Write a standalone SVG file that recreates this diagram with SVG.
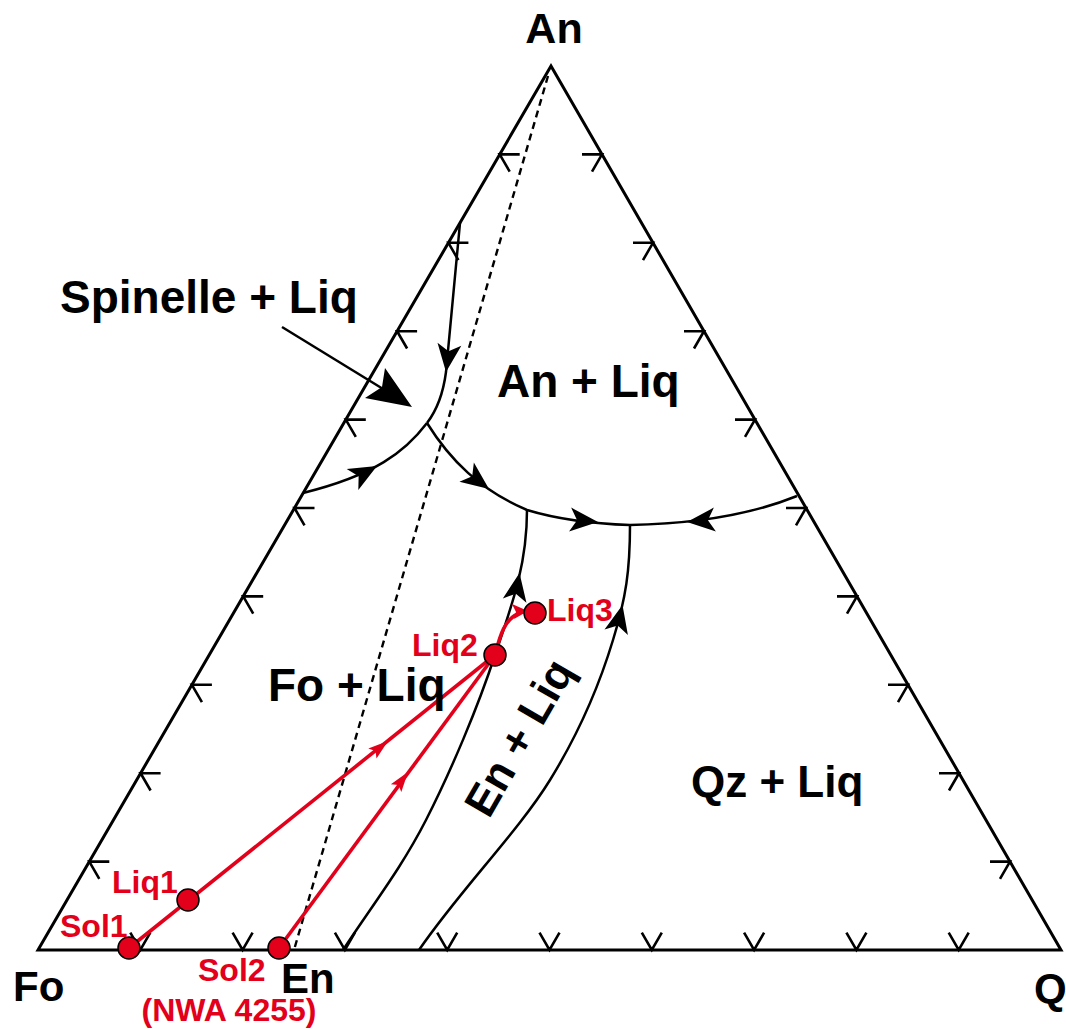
<svg xmlns="http://www.w3.org/2000/svg" xmlns:xlink="http://www.w3.org/1999/xlink" width="1066" height="1030" viewBox="0 0 1066 1030">
<style>
.edge{fill:none;stroke:#000;stroke-width:3;stroke-linejoin:miter}
.tick{fill:none;stroke:#000;stroke-width:2.6}
.bnd{fill:none;stroke:#000;stroke-width:2.5}
.dash{fill:none;stroke:#000;stroke-width:2.4;stroke-dasharray:7 5}
.red{fill:none;stroke:#e2001a;stroke-width:3.6}
.pt{fill:#e2001a;stroke:#000;stroke-width:1.5}
.lbl{font-family:"Liberation Sans",Arial,Helvetica,sans-serif;font-weight:bold;fill:#000}
.rl{font-family:"Liberation Sans",Arial,Helvetica,sans-serif;font-weight:bold;fill:#e2001a;font-size:32px}
</style>
<defs>
<path id="ah" d="M0,0 L-28,-12 L-21,0 L-28,12 Z" fill="#000"/>
</defs>
<rect width="1066" height="1030" fill="#fff"/>
<g id="triangle">
<polygon class="edge" points="38,950 551,66 1061,950"/>
<path class="tick" d="M109.3,861.6 L89.3,861.6 L99.3,878.9 M160.6,773.2 L140.6,773.2 L150.6,790.5 M211.9,684.8 L191.9,684.8 L201.9,702.1 M263.2,596.4 L243.2,596.4 L253.2,613.7 M314.5,508 L294.5,508 L304.5,525.3 M365.8,419.6 L345.8,419.6 L355.8,436.9 M417.1,331.2 L397.1,331.2 L407.1,348.5 M468.4,242.8 L448.4,242.8 L458.4,260.1 M519.7,154.4 L499.7,154.4 L509.7,171.7"/>
<path class="tick" d="M582,154.4 L602,154.4 L592,171.7 M633,242.8 L653,242.8 L643,260.1 M684,331.2 L704,331.2 L694,348.5 M735,419.6 L755,419.6 L745,436.9 M786,508 L806,508 L796,525.3 M837,596.4 L857,596.4 L847,613.7 M888,684.8 L908,684.8 L898,702.1 M939,773.2 L959,773.2 L949,790.5 M990,861.6 L1010,861.6 L1000,878.9"/>
<path class="tick" d="M130.3,932.7 L140.3,950 L150.3,932.7 M232.6,932.7 L242.6,950 L252.6,932.7 M334.9,932.7 L344.9,950 L354.9,932.7 M437.2,932.7 L447.2,950 L457.2,932.7 M539.5,932.7 L549.5,950 L559.5,932.7 M641.8,932.7 L651.8,950 L661.8,932.7 M744.1,932.7 L754.1,950 L764.1,932.7 M846.4,932.7 L856.4,950 L866.4,932.7 M948.7,932.7 L958.7,950 L968.7,932.7"/>
</g>
<g id="connectors">
<path class="bnd" d="M460,223 L446,372 C443,395 437,410 427,423"/>
<path class="bnd" d="M427,423 C405,452 375,475 303,493"/>
<path class="bnd" d="M427,423 C450,460 480,490 527,510 C560,520 600,524 630,525 C690,524 750,515 797,496"/>
<path class="bnd" d="M527,510 C527,565 512,605 495,655 C478,707 451,771 426,820 C401,869 371,907 343,950"/>
<path class="bnd" d="M630,525 C630,570 626,598 613,640 C600,683 582,728 550,780 C518,832 460,890 419,950"/>
<use xlink:href="#ah" href="#ah" transform="translate(446,372) rotate(97)"/>
<use xlink:href="#ah" href="#ah" transform="translate(377,466) rotate(-29)"/>
<use xlink:href="#ah" href="#ah" transform="translate(489,489) rotate(37)"/>
<use xlink:href="#ah" href="#ah" transform="translate(598,522) rotate(5)"/>
<use xlink:href="#ah" href="#ah" transform="translate(687,522) rotate(175)"/>
<use xlink:href="#ah" href="#ah" transform="translate(519.5,573) rotate(-80)"/>
<use xlink:href="#ah" href="#ah" transform="translate(622.5,605) rotate(-77)"/>
<path class="bnd" d="M282,327 L388,392"/>
<polygon points="412,407 385,368 382,387 365,398" fill="#000"/>
<path class="dash" d="M548,76 L294,950"/>
<path class="red" d="M129,948 L495,655"/>
<path class="red" d="M279,948 L495,655"/>
<path class="red" d="M495,655 C500,635 505,618 520,613"/>
<polygon points="388,741 368.3,748.4 375.5,751 376.5,758.6" fill="#e2001a"/>
<polygon points="408,772 390.9,784.2 398.5,784.9 401.3,792" fill="#e2001a"/>
<polygon points="528,611 512,604 516,612 514,619" fill="#e2001a"/>
</g>
<g id="Sol1"><circle class="pt" cx="129" cy="948" r="11"/><text class="rl" x="60" y="937">Sol1</text></g>
<g id="Liq1"><circle class="pt" cx="188" cy="900" r="11"/><text class="rl" x="112" y="893">Liq1</text></g>
<g id="Sol2"><circle class="pt" cx="279" cy="948" r="11"/><text class="rl" x="198" y="981">Sol2</text><text class="rl" x="229" y="1021" text-anchor="middle" font-size="31">(NWA 4255)</text></g>
<g id="Liq2"><circle class="pt" cx="495" cy="655" r="11"/><text class="rl" x="412" y="656">Liq2</text></g>
<g id="Liq3"><circle class="pt" cx="535" cy="613" r="11"/><text class="rl" x="547" y="621">Liq3</text></g>
<g id="labels">
<text class="lbl" x="554" y="43" font-size="43" text-anchor="middle">An</text>
<text class="lbl" x="13" y="1001" font-size="42">Fo</text>
<text class="lbl" x="281" y="993" font-size="42">En</text>
<text class="lbl" x="1034" y="1003" font-size="42">Q</text>
<text class="lbl" x="60" y="313" font-size="46">Spinelle + Liq</text>
<text class="lbl" x="497" y="397" font-size="46">An + Liq</text>
<text class="lbl" x="268" y="701" font-size="46">Fo + Liq</text>
<text class="lbl" x="691" y="797" font-size="44">Qz + Liq</text>
<text class="lbl" font-size="44" text-anchor="middle" transform="translate(532,745) rotate(-60)">En + Liq</text>
</g>
</svg>
